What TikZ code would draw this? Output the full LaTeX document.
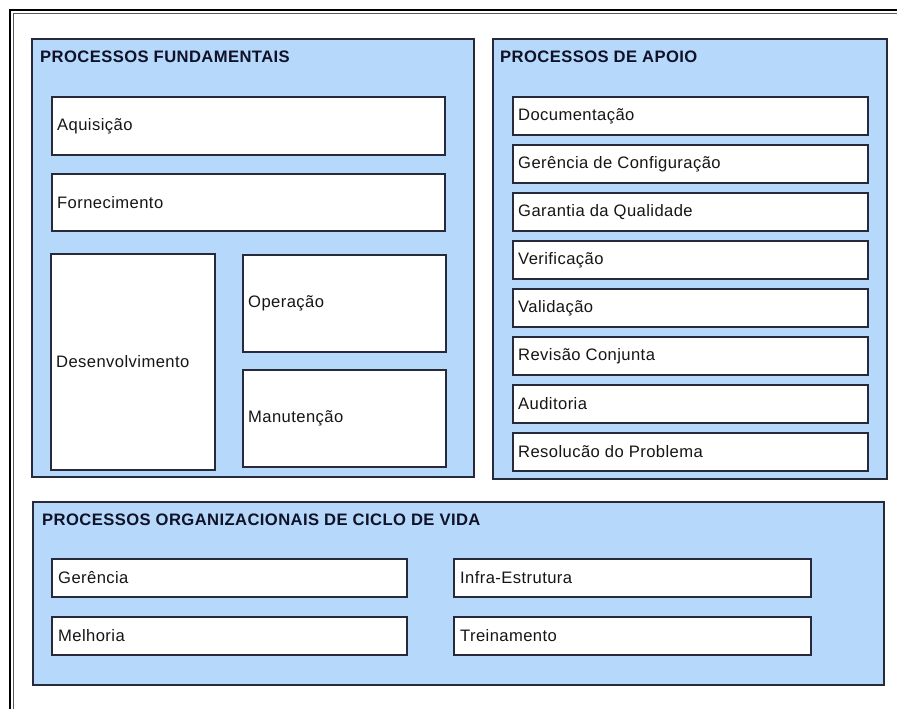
\documentclass[tikz,border=0pt]{standalone}
\usepackage{fontspec}
\setmainfont[LetterSpace=2.5]{Liberation Sans}
\begin{document}
\definecolor{panelfill}{RGB}{182,216,251}
\definecolor{edge}{RGB}{38,42,58}
\definecolor{headtxt}{RGB}{16,18,40}
\definecolor{bodytxt}{RGB}{22,22,22}
\begin{tikzpicture}[x=1pt,y=-1pt,
  panel/.style={draw=edge,fill=panelfill,line width=1.3pt,inner sep=0pt,outer sep=0pt,anchor=north west},
  procbox/.style={draw=edge,fill=white,line width=1.5pt,inner sep=0pt,outer sep=0pt,anchor=north west},
  head/.style={anchor=west,inner sep=0pt,text=headtxt,font=\fontsize{16.6}{20}\selectfont\bfseries},
  lbl/.style={anchor=west,inner sep=0pt,text=bodytxt,font=\fontsize{16.6}{20}\selectfont}]
\useasboundingbox (0,0) rectangle (897,709);
\fill[white] (0,0) rectangle (897,709);
% window frame, double line on the top and left
\draw[black,line width=1.6pt] (10,10) rectangle (910,720);
\draw[gray!70!black,line width=1.1pt] (13.2,13.2) rectangle (910,720);

% --- processos fundamentais ---
\node[panel,minimum width=442,minimum height=438] (fund) at (32,39) {};
\node[head] (fundh) at (40,57) {PROCESSOS FUNDAMENTAIS};
\node[procbox,minimum width=393,minimum height=58] (aq) at (52,97) {};
\node[lbl] (aqt) at ([xshift=5]aq.west) {Aquisição};
\node[procbox,minimum width=393,minimum height=57] (fo) at (52,174) {};
\node[lbl] (fot) at ([xshift=5]fo.west) {Fornecimento};
\node[procbox,minimum width=164,minimum height=216] (de) at (51,254) {};
\node[lbl] (det) at ([xshift=5]de.west) {Desenvolvimento};
\node[procbox,minimum width=203,minimum height=97] (op) at (243,255) {};
\node[lbl] (opt) at ([xshift=5]op.west) {Operação};
\node[procbox,minimum width=203,minimum height=97] (ma) at (243,370) {};
\node[lbl] (mat) at ([xshift=5]ma.west) {Manutenção};

% --- processos de apoio ---
\node[panel,minimum width=394,minimum height=440] (apoio) at (493,39) {};
\node[head] (apoioh) at (500,57) {PROCESSOS DE APOIO};
\foreach \txt [count=\i from 0] in {Documentação,Gerência de Configuração,Garantia da Qualidade,Verificação,Validação,Revisão Conjunta,Auditoria,Resolucão do Problema}{
  \node[procbox,minimum width=355,minimum height=38] (ap\i) at (513,{97+48*\i}) {};
  \node[lbl] (ap\i t) at ([xshift=5]ap\i.west) {\txt};
}

% --- processos organizacionais ---
\node[panel,minimum width=851,minimum height=183] (org) at (33,502) {};
\node[head] (orgh) at (42,520) {PROCESSOS ORGANIZACIONAIS DE CICLO DE VIDA};
\node[procbox,minimum width=355,minimum height=38] (ge) at (52,559) {};
\node[lbl] (get) at ([xshift=6]ge.west) {Gerência};
\node[procbox,minimum width=355,minimum height=38] (me) at (52,617) {};
\node[lbl] (met) at ([xshift=6]me.west) {Melhoria};
\node[procbox,minimum width=357,minimum height=38] (inf) at (454,559) {};
\node[lbl] (inft) at ([xshift=6]inf.west) {Infra-Estrutura};
\node[procbox,minimum width=357,minimum height=38] (tr) at (454,617) {};
\node[lbl] (trt) at ([xshift=6]tr.west) {Treinamento};
\end{tikzpicture}
\end{document}
